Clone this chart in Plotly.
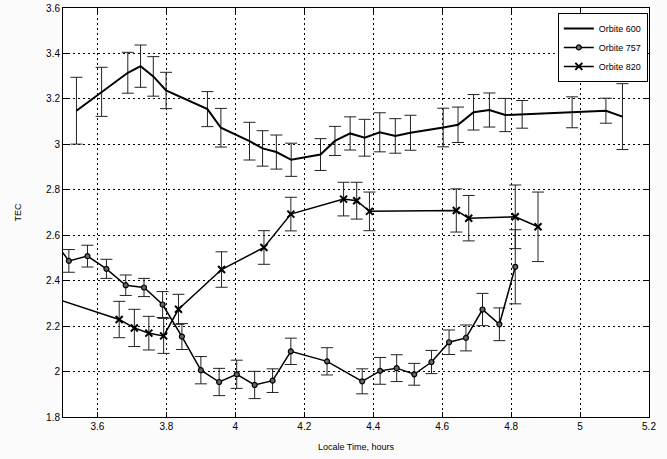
import plotly.graph_objects as go

# Orbite 600
x600 = [3.539, 3.612, 3.688, 3.725, 3.762, 3.799, 3.919, 3.958, 4.041, 4.079, 4.119, 4.162,
        4.247, 4.289, 4.333, 4.375, 4.419, 4.464, 4.508, 4.603, 4.646, 4.691, 4.737, 4.783,
        4.832, 4.977, 5.075, 5.123]
y600 = [3.148, 3.231, 3.315, 3.344, 3.299, 3.237, 3.155, 3.073, 3.014, 2.982, 2.966, 2.932,
        2.955, 3.015, 3.048, 3.029, 3.053, 3.037, 3.051, 3.074, 3.086, 3.141, 3.151, 3.129,
        3.132, 3.141, 3.148, 3.122]
e600 = [0.147, 0.108, 0.090, 0.093, 0.087, 0.080, 0.077, 0.085, 0.083, 0.078, 0.075, 0.073,
        0.070, 0.064, 0.073, 0.081, 0.086, 0.076, 0.077, 0.085, 0.078, 0.078, 0.075, 0.073,
        0.061, 0.068, 0.055, 0.145]

# Orbite 757
x757 = [3.465, 3.517, 3.571, 3.626, 3.682, 3.735, 3.789, 3.845, 3.900, 3.953, 4.004, 4.056,
        4.108, 4.161, 4.266, 4.368, 4.420, 4.468, 4.519, 4.569, 4.620, 4.669, 4.717, 4.766, 4.812]
y757 = [2.594, 2.487, 2.508, 2.452, 2.380, 2.370, 2.295, 2.154, 2.006, 1.954, 1.988, 1.941,
        1.960, 2.089, 2.045, 1.957, 2.003, 2.015, 1.988, 2.042, 2.129, 2.148, 2.273, 2.208, 2.461]
e757 = [0.050, 0.050, 0.048, 0.042, 0.045, 0.040, 0.057, 0.057, 0.060, 0.060, 0.062, 0.060,
        0.052, 0.058, 0.060, 0.055, 0.059, 0.059, 0.048, 0.051, 0.054, 0.057, 0.071, 0.072, 0.163]

# Orbite 820
x820 = [3.400, 3.663, 3.707, 3.749, 3.792, 3.835, 3.960, 4.083, 4.161, 4.314, 4.352, 4.389,
        4.641, 4.677, 4.812, 4.878]
y820 = [2.360, 2.229, 2.192, 2.169, 2.157, 2.274, 2.449, 2.546, 2.693, 2.759, 2.752, 2.705,
        2.709, 2.675, 2.681, 2.637]
e820 = [0.080, 0.080, 0.082, 0.074, 0.077, 0.066, 0.078, 0.074, 0.074, 0.074, 0.081, 0.085,
        0.095, 0.100, 0.140, 0.153]

xticks = [3.6, 3.8, 4.0, 4.2, 4.4, 4.6, 4.8, 5.0, 5.2]
xticklabels = ["3.6", "3.8", "4", "4.2", "4.4", "4.6", "4.8", "5", "5.2"]
yticks = [1.8, 2.0, 2.2, 2.4, 2.6, 2.8, 3.0, 3.2, 3.4, 3.6]
yticklabels = ["1.8", "2", "2.2", "2.4", "2.6", "2.8", "3", "3.2", "3.4", "3.6"]

err_style = dict(type="data", visible=True, color="#222222", thickness=1, width=6)

fig = go.Figure()
fig.add_trace(go.Scatter(
    x=x600, y=y600, name="Orbite 600", mode="lines",
    line=dict(color="black", width=2),
    error_y=dict(array=e600, **err_style)))
fig.add_trace(go.Scatter(
    x=x757, y=y757, name="Orbite 757", mode="lines+markers",
    line=dict(color="black", width=1.5),
    marker=dict(symbol="circle", size=5, color="#666666", line=dict(color="black", width=1.2)),
    error_y=dict(array=e757, **err_style)))
fig.add_trace(go.Scatter(
    x=x820, y=y820, name="Orbite 820", mode="lines+markers",
    line=dict(color="black", width=1.5),
    marker=dict(symbol="x-thin", size=7, color="black", line=dict(color="black", width=2)),
    error_y=dict(array=e820, **err_style)))

axis_common = dict(
    showline=True, linecolor="black", linewidth=1, mirror="ticks",
    ticks="inside", ticklen=5, tickcolor="black", automargin=False,
    showgrid=True, gridcolor="black", gridwidth=1, griddash="2px,3px",
    zeroline=False, tickfont=dict(family="Liberation Sans, Arial", size=10, color="black"),
)

fig.update_layout(
    width=667, height=459,
    margin=dict(l=63, r=18, t=8, b=42),
    paper_bgcolor="#fbfbfb", plot_bgcolor="white",
    font=dict(family="Liberation Sans, Arial", size=10, color="black"),
    showlegend=True,
    legend=dict(x=0.998, y=0.988, xanchor="right", yanchor="top",
                bgcolor="white", bordercolor="black", borderwidth=1,
                font=dict(size=9), tracegroupgap=0, itemwidth=30),
    xaxis=dict(range=[3.5, 5.2], tickvals=xticks, ticktext=xticklabels,
               title=dict(text="Locale Time, hours", font=dict(size=9), standoff=12),
               **axis_common),
    yaxis=dict(range=[1.8, 3.6], tickvals=yticks, ticktext=yticklabels,
               title=dict(text="TEC", font=dict(size=9), standoff=22),
               **axis_common),
)

fig.write_html("out.html", config={"displayModeBar": False},
               post_script="document.body.style.margin='0';document.body.style.overflow='hidden';")
